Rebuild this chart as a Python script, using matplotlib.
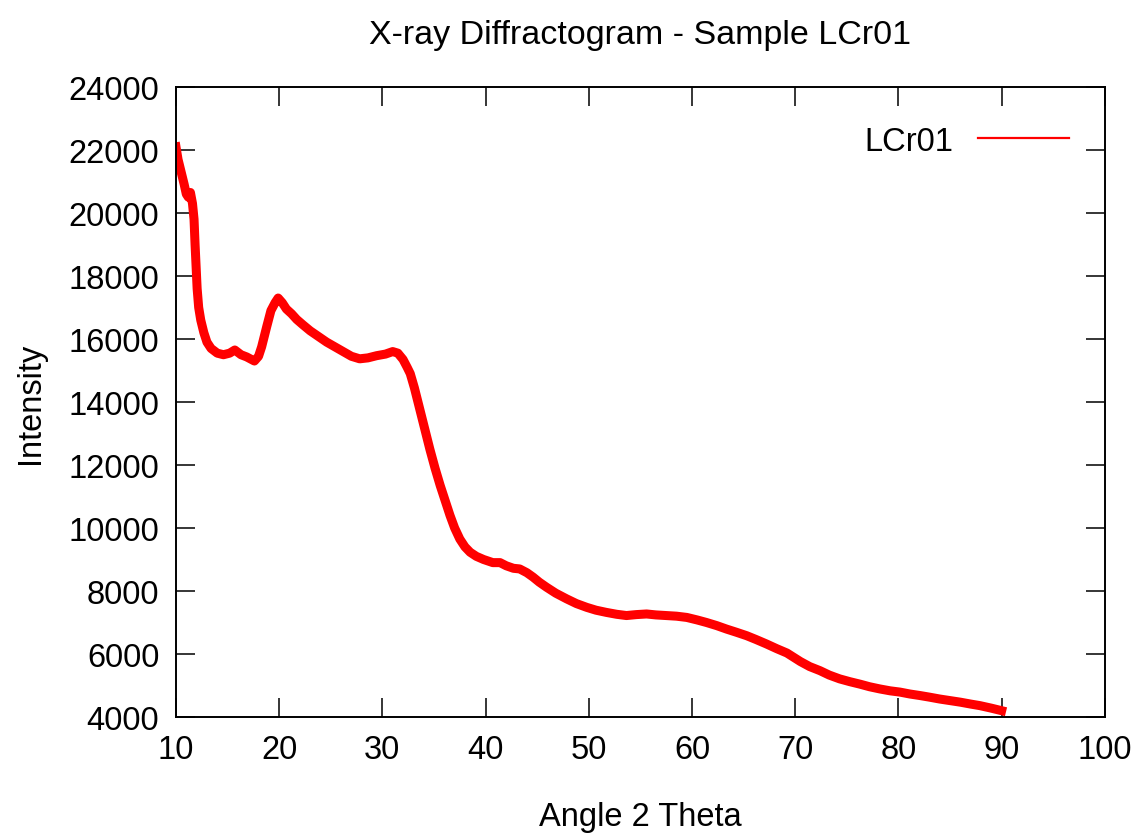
import matplotlib
matplotlib.use("Agg")
import matplotlib.pyplot as plt
from matplotlib.lines import Line2D

# Diffractogram of sample LCr01
angle = [10.0, 10.2, 10.5, 10.8, 11.0, 11.2, 11.4, 11.6, 11.75, 11.85, 11.95, 12.05,
         12.2, 12.4, 12.7, 13.0, 13.4, 14.0, 14.6, 15.2, 15.7, 16.3, 16.85, 17.6,
         18.0, 18.3, 18.8, 19.2, 19.6, 19.9, 20.3, 20.7, 21.2, 21.7, 22.3, 23.0,
         23.8, 24.6, 25.4, 26.2, 27.0, 27.8, 28.6, 29.45, 30.3, 31.0, 31.5, 32.0,
         32.4, 32.7, 33.1, 33.6, 34.1, 34.6, 35.1, 35.6, 36.1, 36.55, 37.0, 37.5,
         38.0, 38.5, 39.1, 39.8, 40.7, 41.4, 42.0, 42.7, 43.3, 44.0, 44.6, 45.2,
         45.9, 46.8, 47.85, 48.8, 49.8, 50.7, 51.7, 52.7, 53.65, 54.6, 55.6, 56.5,
         57.5, 58.5, 59.5, 60.5, 61.4, 62.4, 63.35, 64.3, 65.3, 66.2, 67.2, 68.2,
         69.2, 70.5, 71.4, 72.4, 73.3, 74.3, 75.3, 76.3, 77.2, 78.2, 79.2, 80.15,
         81.1, 82.1, 83.0, 84.0, 85.0, 86.0, 87.0, 87.9, 89.0, 90.0]
intensity = [22100, 21700, 21300, 20900, 20600, 20500, 20650, 20300, 19800, 19000, 18300, 17600,
             17000, 16600, 16200, 15900, 15700, 15550, 15500, 15550, 15650, 15500, 15430, 15300,
             15450, 15750, 16400, 16900, 17150, 17300, 17150, 16950, 16800, 16620, 16450, 16260,
             16080, 15900, 15750, 15600, 15450, 15370, 15400, 15470, 15520, 15600, 15550, 15350,
             15100, 14900, 14450, 13800, 13150, 12500, 11900, 11350, 10850, 10400, 10000, 9650,
             9400, 9230, 9100, 9000, 8900, 8900, 8800, 8720, 8700, 8580, 8440, 8280,
             8120, 7930, 7750, 7600, 7480, 7390, 7320, 7260, 7220, 7250, 7270, 7240,
             7220, 7200, 7160, 7080, 7000, 6900, 6790, 6690, 6580, 6460, 6320, 6170,
             6030, 5760, 5600, 5470, 5330, 5210, 5120, 5040, 4960, 4890, 4830, 4790,
             4730, 4680, 4630, 4570, 4520, 4470, 4410, 4360, 4280, 4200]

plt.rcParams['font.family'] = ['Liberation Sans', 'DejaVu Sans']
fs = 23.5

fig = plt.figure(figsize=(11.39, 8.37), dpi=100)
ax = fig.add_axes([0.1545, 0.1422, 0.8155, 0.7527])

ax.plot(angle, intensity, color='red', lw=6.5, solid_joinstyle='round')

ax.set_xlim(10, 100)
ax.set_ylim(4000, 24000)
ax.set_xticks(range(10, 101, 10))
ax.set_yticks(range(4000, 24001, 2000))
ax.tick_params(direction='in', length=14, width=1.1, labelsize=fs,
               top=True, right=True, pad=12)
for s in ax.spines.values():
    s.set_linewidth(1.4)

ax.set_xlabel("Angle 2 Theta", fontsize=fs, labelpad=26)
ax.set_ylabel("Intensity", fontsize=fs, labelpad=16)
ax.set_title("X-ray Diffractogram - Sample LCr01", fontsize=24.5, pad=32)

proxy = Line2D([], [], color='red', lw=1.6)
ax.legend([proxy], ["LCr01"], loc='upper right', frameon=False, fontsize=fs,
          markerfirst=False, handlelength=2.8, handletextpad=0.75,
          bbox_to_anchor=(0.993, 0.985))

fig.savefig("out.png", dpi=100)
